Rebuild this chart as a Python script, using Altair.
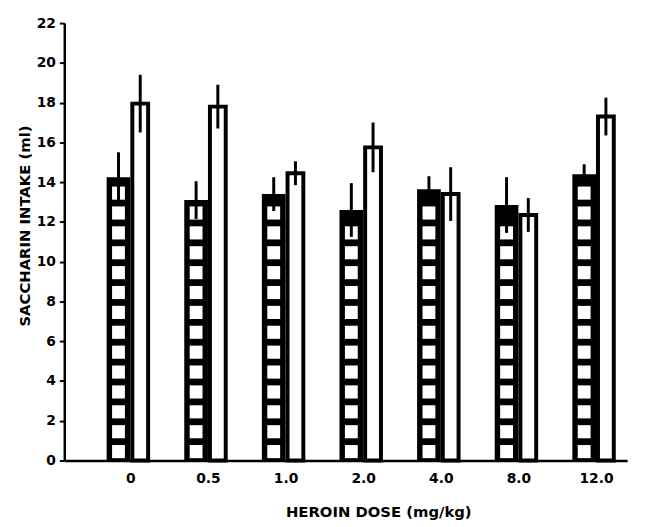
import altair as alt
import pandas as pd

# ---- data ----
doses = ["0", "0.5", "1.0", "2.0", "4.0", "8.0", "12.0"]
hatched_mean = [14.25, 13.1, 13.4, 12.6, 13.65, 12.85, 14.4]
hatched_sem = [1.25, 0.95, 0.85, 1.35, 0.65, 1.4, 0.5]
open_mean = [17.95, 17.8, 14.45, 15.75, 13.4, 12.35, 17.3]
open_sem = [1.45, 1.1, 0.6, 1.25, 1.35, 0.85, 0.95]

y_ticks = list(range(0, 23, 2))

# ---- tables built from the arrays ----
idx = list(range(len(doses)))
hatched = pd.DataFrame({
    "idx": idx, "dose": doses, "mean": hatched_mean,
    "lo": [m - s for m, s in zip(hatched_mean, hatched_sem)],
    "hi": [m + s for m, s in zip(hatched_mean, hatched_sem)],
})
opened = pd.DataFrame({
    "idx": idx, "dose": doses, "mean": open_mean,
    "lo": [m - s for m, s in zip(open_mean, open_sem)],
    "hi": [m + s for m, s in zip(open_mean, open_sem)],
})

# ladder pattern cells inside the hatched bars (one white cell per unit)
cell_rows = []
for i, m in zip(idx, hatched_mean):
    k = 0
    while k + 0.78 <= m - 0.25:
        cell_rows.append({"idx": i, "c0": k + 0.12, "c1": k + 0.78})
        k += 1
cells = pd.DataFrame(cell_rows)

FONT = "DejaVu Sans"
label_expr = "[" + ",".join("'%s'" % d for d in doses) + "][datum.value]"

x_axis = alt.Axis(
    title="HEROIN DOSE (mg/kg)", values=idx, labelExpr=label_expr,
    ticks=False, grid=False, labelPadding=11, labelFontSize=14,
    labelFont=FONT, labelFontWeight="bold", labelColor="black",
    domainColor="black", domainWidth=2.5,
    titleFont=FONT, titleFontSize=15, titleFontWeight="bold",
    titleColor="black", titleX=318, titleY=52, titleAlign="center",
    titleBaseline="middle",
)
y_axis = alt.Axis(
    title="SACCHARIN INTAKE (ml)", values=y_ticks, grid=False,
    tickSize=5, tickWidth=2, tickColor="black", labelPadding=4,
    labelFontSize=14, labelFont=FONT, labelFontWeight="bold",
    labelColor="black", domainColor="black", domainWidth=2.5,
    titleFont=FONT, titleFontSize=15, titleFontWeight="bold",
    titleColor="black", titleX=-40, titleY=205, titleAngle=270,
    titleBaseline="middle", titleAlign="center",
)
x_scale = alt.Scale(domain=[-0.7875, 6.3375], nice=False, zero=False)
y_scale = alt.Scale(domain=[0, 22], nice=False)

X = alt.X("idx:Q", scale=x_scale, axis=x_axis)

hatched_bars = alt.Chart(hatched).mark_bar(
    color="black", width=24, xOffset=-12
).encode(x=X, y=alt.Y("mean:Q", scale=y_scale, axis=y_axis))

cell_marks = alt.Chart(cells).mark_bar(
    color="white", width=13, xOffset=-12
).encode(x=X, y=alt.Y("c0:Q", scale=y_scale, axis=y_axis), y2="c1:Q")

hatched_err = alt.Chart(hatched).mark_rule(
    color="black", strokeWidth=3, xOffset=-12
).encode(x=X, y=alt.Y("lo:Q", scale=y_scale, axis=y_axis), y2="hi:Q")

open_bars = alt.Chart(opened).mark_bar(
    fill="white", stroke="black", strokeWidth=4, width=16, xOffset=10
).encode(x=X, y=alt.Y("mean:Q", scale=y_scale, axis=y_axis))

open_err = alt.Chart(opened).mark_rule(
    color="black", strokeWidth=3, xOffset=10
).encode(x=X, y=alt.Y("lo:Q", scale=y_scale, axis=y_axis), y2="hi:Q")

chart = alt.layer(
    hatched_bars, cell_marks, hatched_err, open_bars, open_err
).properties(
    width=570, height=443,
    autosize=alt.AutoSizeParams(type="none"),
    padding={"left": 57, "top": 12, "right": 12, "bottom": 63},
    background="white",
).configure_view(stroke=None)

chart.save("out.html", embed_options={"renderer": "svg", "actions": False})
